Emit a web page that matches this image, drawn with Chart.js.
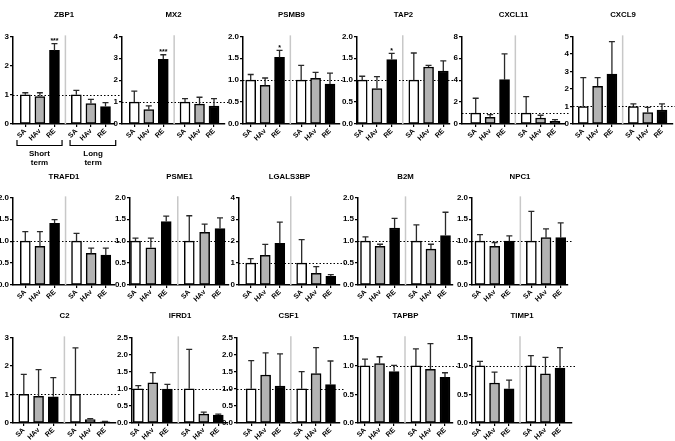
<!DOCTYPE html>
<html>
<head>
<meta charset="utf-8">
<script src="https://cdn.jsdelivr.net/npm/chart.js@4.4.1/dist/chart.umd.min.js"></script>
<style>
  html, body { margin: 0; padding: 0; background: #fff; }
  body { position: relative; width: 675px; height: 441px; overflow: hidden; }
  canvas { position: absolute; }
</style>
</head>
<body>
<script>
// bar labels, 3 short-term + 3 long-term
const barLabels = ['SA', 'HAv', 'RE', 'SA', 'HAv', 'RE'];
const barSlots = [1, 2, 3, 4.5, 5.5, 6.5];
const barColors = ['#ffffff', '#b3b3b3', '#000000', '#ffffff', '#b3b3b3', '#000000'];

// means and top of the error bars
const zbp1 = [1.0, 0.94, 2.52, 1.0, 0.70, 0.60];
const zbp1Err = [1.07, 1.07, 2.75, 1.15, 0.84, 0.73];
const mx2 = [1.0, 0.66, 2.95, 1.0, 0.91, 0.82];
const mx2Err = [1.50, 0.83, 3.16, 1.16, 1.22, 1.16];
const psmb9 = [1.0, 0.88, 1.52, 1.0, 1.04, 0.91];
const psmb9Err = [1.13, 1.05, 1.68, 1.34, 1.18, 1.16];
const tap2 = [1.0, 0.81, 1.47, 1.0, 1.30, 1.21];
const tap2Err = [1.09, 1.08, 1.61, 1.62, 1.34, 1.44];
const cxcl11 = [1.0, 0.60, 4.05, 1.0, 0.55, 0.25];
const cxcl11Err = [2.35, 0.85, 6.40, 2.50, 0.80, 0.40];
const cxcl9 = [1.0, 2.15, 2.85, 1.0, 0.65, 0.80];
const cxcl9Err = [2.65, 2.65, 4.70, 1.15, 0.95, 1.15];

const trafd1 = [1.0, 0.88, 1.41, 1.0, 0.72, 0.68];
const trafd1Err = [1.22, 1.22, 1.49, 1.18, 0.84, 0.84];
const psme1 = [1.0, 0.85, 1.45, 1.0, 1.20, 1.29];
const psme1Err = [1.07, 1.07, 1.57, 1.58, 1.39, 1.53];
const lgals3bp = [1.0, 1.35, 1.90, 1.0, 0.53, 0.40];
const lgals3bpErr = [1.20, 1.85, 2.87, 2.07, 0.84, 0.47];
const b2m = [1.0, 0.88, 1.30, 1.0, 0.82, 1.13];
const b2mErr = [1.10, 0.93, 1.52, 1.37, 0.93, 1.66];
const npc1 = [1.0, 0.88, 1.0, 1.0, 1.08, 1.08];
const npc1Err = [1.15, 0.97, 1.12, 1.68, 1.28, 1.42];

const c2 = [1.0, 0.93, 0.92, 1.0, 0.12, 0.04];
const c2Err = [1.70, 1.87, 1.59, 2.63, 0.15, 0.06];
const ifrd1 = [1.0, 1.17, 0.99, 1.0, 0.26, 0.23];
const ifrd1Err = [1.09, 1.47, 1.13, 2.15, 0.32, 0.26];
const csf1 = [1.0, 1.40, 1.08, 1.0, 1.44, 1.12];
const csf1Err = [1.82, 2.05, 2.02, 1.50, 2.20, 1.81];
const tapbp = [1.0, 1.04, 0.90, 1.0, 0.94, 0.80];
const tapbpErr = [1.12, 1.16, 1.01, 1.30, 1.39, 0.88];
const timp1 = [1.0, 0.70, 0.60, 1.0, 0.86, 0.96];
const timp1Err = [1.08, 0.89, 0.75, 1.18, 1.15, 1.32];

const FONT = 'Arial, "Liberation Sans", Helvetica, sans-serif';
const Y_AXIS_W = 24, X_AXIS_H = 18, PAD_R = 8;
Chart.defaults.font.family = FONT;

// canvas top / height and title spacing for each row
const rows = [
  { top: 0,   height: 170, padTop: 10.5, padBelow: 16.5, padBottom: 28 },
  { top: 160, height: 143, padTop: 12,   padBelow: 16,   padBottom: 0 },
  { top: 298, height: 143, padTop: 13,   padBelow: 17,   padBottom: 0 }
];

// frame = [y axis x, first bar centre, last bar centre, x axis end] in page px
const panels = [
  { title: 'ZBP1',     mean: zbp1,     err: zbp1Err,     max: 3,   step: 1,   row: 0, frame: [13, 25.3, 105.5, 115], sig: [2, '***'], brackets: true },
  { title: 'MX2',      mean: mx2,      err: mx2Err,      max: 4,   step: 1,   row: 0, frame: [122, 134.3, 214, 225], sig: [2, '***'] },
  { title: 'PSMB9',    mean: psmb9,    err: psmb9Err,    max: 2,   step: 0.5, row: 0, frame: [243, 250.7, 330, 340], sig: [2, '*'] },
  { title: 'TAP2',     mean: tap2,     err: tap2Err,     max: 2,   step: 0.5, row: 0, frame: [357, 362.2, 443.3, 450], sig: [2, '*'] },
  { title: 'CXCL11',   mean: cxcl11,   err: cxcl11Err,   max: 8,   step: 2,   row: 0, frame: [462, 475.7, 555, 565] },
  { title: 'CXCL9',    mean: cxcl9,    err: cxcl9Err,    max: 5,   step: 1,   row: 0, frame: [573, 583.3, 662, 673] },
  { title: 'TRAFD1',   mean: trafd1,   err: trafd1Err,   max: 2,   step: 0.5, row: 1, frame: [13, 25.3, 105.8, 115] },
  { title: 'PSME1',    mean: psme1,    err: psme1Err,    max: 2,   step: 0.5, row: 1, frame: [130, 135.5, 220, 229] },
  { title: 'LGALS3BP', mean: lgals3bp, err: lgals3bpErr, max: 4,   step: 1,   row: 1, frame: [239, 250.7, 330.8, 340] },
  { title: 'B2M',      mean: b2m,      err: b2mErr,      max: 2,   step: 0.5, row: 1, frame: [358, 365.5, 445.5, 453] },
  { title: 'NPC1',     mean: npc1,     err: npc1Err,     max: 2,   step: 0.5, row: 1, frame: [472, 480, 560.7, 568] },
  { title: 'C2',       mean: c2,       err: c2Err,       max: 3,   step: 1,   row: 2, frame: [13, 23.8, 105, 116] },
  { title: 'IFRD1',    mean: ifrd1,    err: ifrd1Err,    max: 2.5, step: 0.5, row: 2, frame: [132, 138.3, 218.3, 228] },
  { title: 'CSF1',     mean: csf1,     err: csf1Err,     max: 2.5, step: 0.5, row: 2, frame: [237, 251.2, 330.5, 340] },
  { title: 'TAPBP',    mean: tapbp,    err: tapbpErr,    max: 1.5, step: 0.5, row: 2, frame: [358, 365, 445, 453] },
  { title: 'TIMP1',    mean: timp1,    err: timp1Err,    max: 1.5, step: 0.5, row: 2, frame: [472, 480, 560, 572] }
];

// separator line, dotted line at 1, error bars, stars, brackets
function decor(p) {
  return {
    id: 'decor',
    beforeDatasetsDraw(chart) {
      const { ctx, chartArea: a, scales: { x, y } } = chart;
      ctx.save();
      const sx = x.getPixelForValue(3.75);
      ctx.strokeStyle = '#c8c8c8';
      ctx.lineWidth = 1.5;
      ctx.beginPath();
      ctx.moveTo(sx, a.top - 1);
      ctx.lineTo(sx, a.bottom);
      ctx.stroke();
      const ry = Math.round(y.getPixelForValue(1)) + 0.5;
      ctx.strokeStyle = '#000';
      ctx.lineWidth = 1.1;
      ctx.setLineDash([1.5, 2]);
      ctx.beginPath();
      ctx.moveTo(a.left, ry);
      ctx.lineTo(a.right + 5, ry);
      ctx.stroke();
      ctx.restore();
    },
    afterDatasetsDraw(chart) {
      const { ctx, scales: { y } } = chart;
      const bars = chart.getDatasetMeta(0).data;
      ctx.save();
      ctx.strokeStyle = '#2a2a2a';
      ctx.lineWidth = 1.3;
      bars.forEach((bar, i) => {
        const top = y.getPixelForValue(p.err[i]);
        ctx.beginPath();
        ctx.moveTo(bar.x, bar.y);
        ctx.lineTo(bar.x, top);
        ctx.moveTo(bar.x - 3, top);
        ctx.lineTo(bar.x + 3, top);
        ctx.stroke();
      });
      if (p.sig) {
        const bar = bars[p.sig[0]];
        ctx.fillStyle = '#000';
        ctx.font = 'bold 7px ' + FONT;
        ctx.textAlign = 'center';
        ctx.textBaseline = 'bottom';
        ctx.fillText(p.sig[1], bar.x, y.getPixelForValue(p.err[p.sig[0]]) + 1);
      }
      ctx.restore();
    },
    afterDraw(chart) {
      if (!p.brackets) return;
      const { ctx, chartArea: a, scales: { x } } = chart;
      const base = a.bottom + 21.5;
      ctx.save();
      ctx.strokeStyle = '#000';
      ctx.lineWidth = 1.2;
      [[0.43, 3.52], [4.07, 7.2]].forEach(([from, to]) => {
        const l = x.getPixelForValue(from), r = x.getPixelForValue(to);
        ctx.beginPath();
        ctx.moveTo(l, base - 5.5);
        ctx.lineTo(l, base);
        ctx.lineTo(r, base);
        ctx.lineTo(r, base - 5.5);
        ctx.stroke();
      });
      ctx.fillStyle = '#000';
      ctx.font = 'bold 8px ' + FONT;
      ctx.textAlign = 'center';
      ctx.textBaseline = 'middle';
      const sxc = x.getPixelForValue(1.97), lxc = x.getPixelForValue(5.65);
      ctx.fillText('Short', sxc, base + 8);
      ctx.fillText('term', sxc, base + 17);
      ctx.fillText('Long', lxc, base + 8);
      ctx.fillText('term', lxc, base + 17);
      ctx.restore();
    }
  };
}

panels.forEach(p => {
  const r = rows[p.row];
  const [axisX, firstC, lastC, endX] = p.frame;
  const unit = (lastC - firstC) / 5.5;
  const canvas = document.createElement('canvas');
  const w = endX - axisX + Y_AXIS_W + PAD_R;
  canvas.width = w;
  canvas.height = r.height;
  canvas.style.left = (axisX - Y_AXIS_W) + 'px';
  canvas.style.top = r.top + 'px';
  canvas.style.width = w + 'px';
  canvas.style.height = r.height + 'px';
  document.body.appendChild(canvas);

  new Chart(canvas, {
    type: 'bar',
    data: {
      datasets: [{
        data: p.mean.map((v, i) => ({ x: barSlots[i], y: v })),
        backgroundColor: barColors,
        borderColor: '#000',
        borderWidth: 1.5,
        borderSkipped: false,
        barThickness: 10
      }]
    },
    options: {
      responsive: false,
      animation: false,
      devicePixelRatio: 1,
      layout: { padding: { left: 0, right: PAD_R, top: 0, bottom: r.padBottom } },
      plugins: {
        legend: { display: false },
        tooltip: { enabled: false },
        title: {
          display: true,
          text: p.title,
          fullSize: false,
          color: '#000',
          font: { size: 7.8, weight: 'bold' },
          padding: { top: r.padTop, bottom: r.padBelow }
        }
      },
      scales: {
        x: {
          type: 'linear',
          min: 1 - (firstC - axisX) / unit,
          max: 6.5 + (endX - lastC) / unit,
          offset: false,
          afterBuildTicks: s => { s.ticks = barSlots.map(v => ({ value: v })); },
          afterFit: s => { s.height = X_AXIS_H; },
          ticks: {
            autoSkip: false,
            minRotation: 45,
            maxRotation: 45,
            padding: 0,
            color: '#000',
            font: { size: 7, weight: 'bold' },
            callback: v => barLabels[barSlots.indexOf(v)]
          },
          grid: { drawOnChartArea: false, offset: false, color: '#000', lineWidth: 1.2, tickLength: 3 },
          border: { color: '#000', width: 1.5 }
        },
        y: {
          min: 0,
          max: p.max,
          afterFit: s => { s.width = Y_AXIS_W; },
          ticks: {
            stepSize: p.step,
            padding: 1,
            color: '#000',
            font: { size: 8, weight: 'bold' },
            callback: v => p.step < 1 ? v.toFixed(1) : String(v)
          },
          grid: { drawOnChartArea: false, color: '#000', lineWidth: 1.2, tickLength: 3 },
          border: { color: '#000', width: 1.5 }
        }
      }
    },
    plugins: [decor(p)]
  });
});
</script>
</body>
</html>
